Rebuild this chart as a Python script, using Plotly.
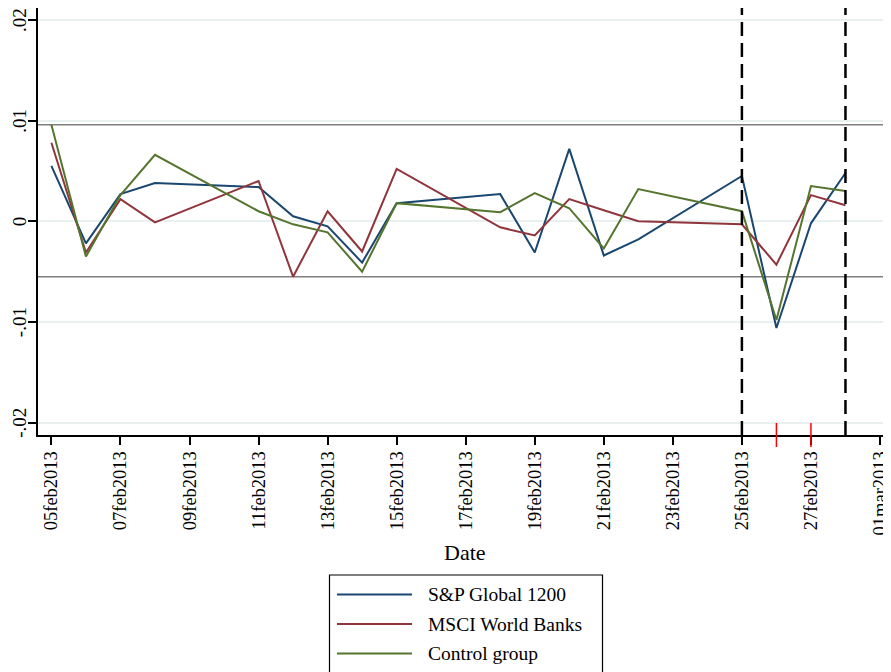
import plotly.graph_objects as go
import pandas as pd

# ---- data ----
dates = ["2013-02-05", "2013-02-06", "2013-02-07", "2013-02-08", "2013-02-11",
         "2013-02-12", "2013-02-13", "2013-02-14", "2013-02-15", "2013-02-18",
         "2013-02-19", "2013-02-20", "2013-02-21", "2013-02-22", "2013-02-25",
         "2013-02-26", "2013-02-27", "2013-02-28"]
sp_global = [0.0055, -0.0022, 0.0027, 0.0038, 0.0034, 0.0005, -0.0005, -0.0041, 0.0018,
             0.0027, -0.0031, 0.0072, -0.0034, -0.0018, 0.0045, -0.0106, -0.0002, 0.0048]
msci_banks = [0.0078, -0.0031, 0.0022, -0.0001, 0.0040, -0.0055, 0.0010, -0.0030, 0.0052,
              -0.0006, -0.0014, 0.0022, 0.0011, 0.0000, -0.0003, -0.0043, 0.0026, 0.0016]
control = [0.0096, -0.0035, 0.0026, 0.0066, 0.0010, -0.0003, -0.0011, -0.0050, 0.0018,
           0.0009, 0.0028, 0.0013, -0.0027, 0.0032, 0.0010, -0.0098, 0.0035, 0.0030]
series_names = ["S&P Global 1200", "MSCI World Banks", "Control group"]

ref_levels = [0.0096, 0.0, -0.0055]
window_dates = ["2013-02-25", "2013-02-28"]
event_dates = ["2013-02-26", "2013-02-27"]

xtick_vals = pd.date_range("2013-02-05", "2013-03-01", freq="2D")
xtick_text = [d.strftime("%d") + d.strftime("%b").lower() + d.strftime("%Y") for d in xtick_vals]
ytick_vals = [-0.02, -0.01, 0.0, 0.01, 0.02]
ytick_text = ["-.02", "-.01", "0", ".01", ".02"]

# ---- style ----
OFF = 8  # page body margin
W, H = 891 - OFF, 672 - OFF
L, R, T = 38 - OFF, 0, 8 - OFF
B = H - (435 - OFF)
PW, PH = W - L - R, H - T - B
colors = ["#1a476f", "#90353b", "#55752f"]
FONT = "Liberation Serif, Times New Roman, serif"


def px(xp):
    return (xp - OFF - L) / PW


def py(yp):
    return (H - B - (yp - OFF)) / PH


fig = go.Figure()
for name, vals, c in zip(series_names, [sp_global, msci_banks, control], colors):
    fig.add_trace(go.Scatter(x=pd.to_datetime(dates), y=vals, mode="lines", name=name,
                             line=dict(color=c, width=2), showlegend=False))

shapes = []
for lv in ref_levels:
    shapes.append(dict(type="line", xref="paper", x0=0, x1=1, yref="y", y0=lv, y1=lv,
                       line=dict(color="#7f7f7f", width=1.5), layer="below"))
for d in window_dates:
    shapes.append(dict(type="line", xref="x", x0=d, x1=d, yref="paper", y0=0, y1=1,
                       line=dict(color="black", width=2.5, dash="14px,7px")))
for d in event_dates:
    shapes.append(dict(type="line", xref="x", x0=d, x1=d, yref="paper",
                       y0=py(447), y1=py(423), line=dict(color="#ff0000", width=1.5)))

# legend (manual, Stata-style box)
shapes.append(dict(type="rect", xref="paper", yref="paper", x0=px(329.5), x1=px(602.5),
                   y0=py(690), y1=py(575), line=dict(color="black", width=1.2),
                   fillcolor="white"))
annotations = []
row_y = [594.5, 624, 653.5]
for name, c, ry in zip(series_names, colors, row_y):
    shapes.append(dict(type="line", xref="paper", yref="paper", x0=px(337), x1=px(412),
                       y0=py(ry), y1=py(ry), line=dict(color=c, width=2)))
    annotations.append(dict(xref="paper", yref="paper", x=px(426), y=py(ry), text=name,
                            showarrow=False, xanchor="left", yanchor="middle",
                            font=dict(family=FONT, size=19.5, color="black")))
annotations.append(dict(xref="paper", yref="paper", x=px(465), y=py(553), text="Date",
                        showarrow=False, xanchor="center", yanchor="middle",
                        font=dict(family=FONT, size=22, color="black")))

fig.update_layout(
    width=W, height=H,
    margin=dict(l=L, r=R, t=T, b=B, pad=0, autoexpand=False),
    paper_bgcolor="white", plot_bgcolor="white",
    font=dict(family=FONT, color="black"),
    shapes=shapes, annotations=annotations,
    xaxis=dict(type="date", range=["2013-02-04 14:41", "2013-03-01 07:39"],
               tickvals=xtick_vals, ticktext=xtick_text, tickangle=-90,
               tickfont=dict(family=FONT, size=18.5), ticks="outside", ticklen=8,
               tickwidth=1.5, tickcolor="black", showline=True, linecolor="black",
               linewidth=1.5, showgrid=False, zeroline=False, ticklabelstandoff=-1,
               ticklabeloverflow="allow", automargin=False),
    yaxis=dict(range=[-0.02123, 0.02119], tickvals=ytick_vals, ticktext=ytick_text,
               tickangle=-90, tickfont=dict(family=FONT, size=19), ticks="outside",
               ticklen=8, tickwidth=1.5, tickcolor="black", showline=True,
               linecolor="black", linewidth=1.5, showgrid=True, gridcolor="#e8f0f0",
               gridwidth=2, zeroline=False, ticklabelstandoff=-5, ticklabelshift=3,
               ticklabeloverflow="allow", automargin=False),
)

fig.write_html("out.html")
